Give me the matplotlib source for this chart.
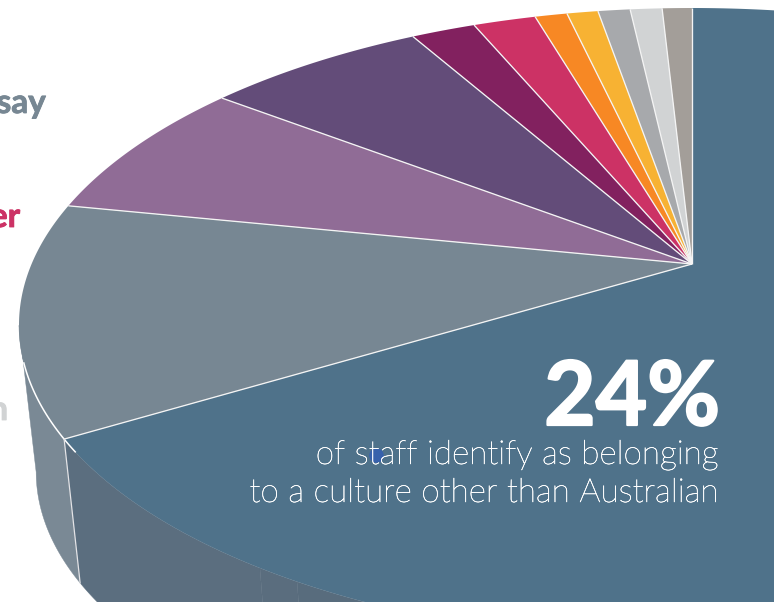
import numpy as np
import matplotlib
matplotlib.use("Agg")
import matplotlib.pyplot as plt
import matplotlib.patheffects as pe

# Slice shares in percent, counter-clockwise from twelve o'clock
categories = ["Slice A", "Slice B", "Slice C", "Slice D", "Slice E", "Slice F",
              "Slice G", "Slice H", "Slice I", "Slice J", "Australian"]
shares = [0.86, 0.92, 0.93, 0.90, 0.93, 1.81, 1.86, 6.41, 7.21, 11.81, 66.36]
top_colours = ["#a39e99", "#d1d3d4", "#a7a9ac", "#f7b233", "#f78824", "#cc3265",
               "#82215f", "#634c79", "#906c96", "#778793", "#4f728a"]

headline = "24%"
caption_lines = ["of staff identify as belonging", "to a culture other than Australian"]
clipped_labels = ["say", "er", "n"]
clipped_colours = ["#778793", "#cc3265", "#d1d3d4"]

# Perspective of the disc: rim ellipse, hub offset and the vanishing point of the wall
CX, CY, RX, RY = 692.0, 325.0, 673.0, 317.0
HUB = -0.1924
VP_Y = 6080.0
WALL_SCALE = 0.9745


def rim(share):
    """Pixel position of the rim at a cumulative share, seen in perspective."""
    t = np.radians(np.asarray(share, dtype=float) * 3.6)
    x, y = -np.sin(t), -np.cos(t)
    d = 1 + HUB * y
    return (CX + RX * x * np.sqrt(1 - HUB ** 2) / d,
            CY + RY * (y + HUB) / d)


def lower_rim(share):
    """Bottom edge of the wall under the rim."""
    x, y = rim(share)
    return CX + WALL_SCALE * (x - CX), VP_Y + WALL_SCALE * (y - VP_Y)


def draw_wall(ax, start, end, colour):
    s = np.linspace(start, end, 160)
    xa, ya = rim(s)
    xb, yb = lower_rim(s[::-1])
    ax.fill(np.r_[xa, xb], np.r_[ya, yb], color=colour, lw=0.3, zorder=1)


fig = plt.figure(figsize=(7.74, 6.02), dpi=100)
ax = fig.add_axes([0, 0, 1, 1])
ax.set_xlim(0, 774)
ax.set_ylim(602, 0)
ax.axis("off")

cum = np.r_[0, np.cumsum(shares)]
apex = (CX, CY + RY * HUB)

# Side wall: slate panel on the left, then the blue panel with its faint bands
draw_wall(ax, 28.1, cum[10], "#7a8995")
draw_wall(ax, cum[10], 40.75, "#5b6e7f")
draw_wall(ax, 40.75, 41.7, "#5a6d7e")
draw_wall(ax, 41.7, 60.0, "#586c7d")

# Top face
for i, colour in enumerate(top_colours):
    s = np.linspace(cum[i], cum[i + 1], 300)
    x, y = rim(s)
    ax.fill(np.r_[apex[0], x], np.r_[apex[1], y], color=colour, lw=0, zorder=2)

# Dividers between the slices
for c in cum[:-1]:
    x, y = rim(c)
    ax.plot([apex[0], x], [apex[1], y], color="#f4f4f4", lw=0.95, zorder=3,
            solid_capstyle="butt")

# Highlight along the rim and down the corner of the wall
x, y = rim(np.linspace(29.9, 34.3, 60))
ax.plot(x, y, color="white", lw=1.1, zorder=4, solid_capstyle="butt")
xa, ya = rim(cum[10])
xb, yb = lower_rim(cum[10])
ax.plot([xa, xb], [ya, yb], color="#e3e3e6", lw=0.9, zorder=4)

ax.scatter([376], [455], s=110, color="#3560b0", alpha=0.9, lw=0, zorder=4)

ax.text(720, 425, headline, color="white", fontsize=64, fontweight="bold",
        family="Lato", ha="right", va="baseline", zorder=5,
        path_effects=[pe.withStroke(linewidth=1.6, foreground="white")])
for text, base in zip(caption_lines, [464, 502]):
    ax.text(719, base, text, color="white", fontsize=24.0, fontweight="light",
            family="Lato", ha="right", va="baseline", zorder=5,
            path_effects=[pe.withStroke(linewidth=0.35, foreground="white")])

for text, colour, right, base in zip(clipped_labels, clipped_colours, [46, 20, 8], [113, 227, 420]):
    ax.text(right, base, text, color=colour, fontsize=24, fontweight="bold",
            family="Lato", ha="right", va="baseline", zorder=5,
            path_effects=[pe.withStroke(linewidth=0.6, foreground=colour)])

fig.savefig("out.png", dpi=100)
